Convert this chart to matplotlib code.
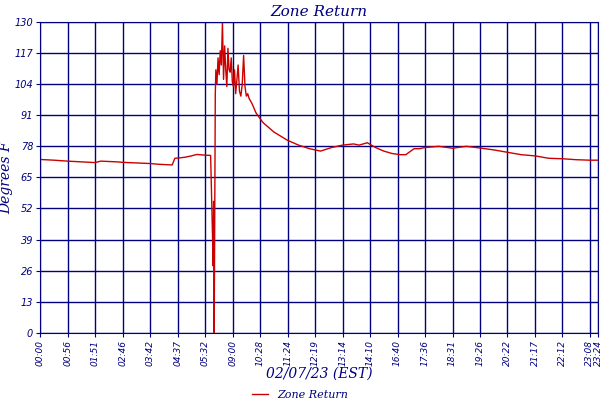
import matplotlib
matplotlib.use('Agg')
import matplotlib.pyplot as plt

NAVY = '#000080'
RED = '#cc0000'

tick_labels = ['00:00', '00:56', '01:51', '02:46', '03:42', '04:37', '05:32', '09:00',
               '10:28', '11:24', '12:19', '13:14', '14:10', '16:40', '17:36', '18:31',
               '19:26', '20:22', '21:17', '22:12', '23:08', '23:24']
tick_pos = list(range(21)) + [20.3]
y_ticks = [0, 13, 26, 39, 52, 65, 78, 91, 104, 117, 130]

# x in tick-slot units, values in degrees F
x = [0, 0.5, 1.0, 1.5, 2.0, 2.2, 2.8, 3.0, 3.6, 4.0, 4.3, 4.8, 4.9, 5.1, 5.3, 5.5, 5.7,
     5.9, 6.0, 6.2, 6.27, 6.29, 6.31, 6.33, 6.35, 6.37, 6.39, 6.43, 6.47, 6.51, 6.55,
     6.59, 6.63, 6.67, 6.71, 6.75, 6.79, 6.83, 6.87, 6.91, 6.95, 6.99, 7.03, 7.07,
     7.11, 7.15, 7.20, 7.25, 7.30, 7.35, 7.40, 7.45, 7.50, 7.55, 7.60, 7.7, 7.85,
     8.1, 8.5, 9.0, 9.4, 9.8, 10.2, 10.6, 11.0, 11.4, 11.6, 11.9, 12.2, 12.5,
     12.8, 13.1, 13.3, 13.6, 13.8, 14.0, 14.5, 15.0, 15.5, 16.0, 16.5, 17.0,
     17.5, 18.0, 18.5, 19.0, 19.5, 20.0, 20.3]
y = [72.5, 72.2, 71.8, 71.5, 71.2, 71.8, 71.5, 71.3, 71.0, 70.8, 70.5, 70.2, 73.0,
     73.2, 73.5, 74.0, 74.6, 74.4, 74.3, 74.2, 40, 28, 55, 0, 50, 100, 110, 104,
     115, 108, 118, 112, 130, 106, 120, 110, 103, 119, 110, 109, 115, 105, 103,
     110, 100, 105, 112, 101, 99, 104, 116, 103, 99, 100, 98, 96, 92, 88, 84,
     80.5, 78.5, 77, 76, 77.5, 78.5, 79, 78.5, 79.5, 77.5, 76, 75, 74.5, 74.5,
     77, 77, 77.5, 78, 77.2, 78, 77.3, 76.5, 75.5, 74.5, 74, 73, 72.8, 72.4,
     72.2, 72.2]

fig, ax = plt.subplots(figsize=(6, 4), dpi=100)
fig.subplots_adjust(left=0.067, right=0.997, top=0.945, bottom=0.168)
ax.plot(x, y, color=RED, lw=1, label='Zone Return')
ax.set_xlim(0, 20.3)
ax.set_ylim(0, 130)
ax.set_xticks(tick_pos)
ax.set_xticklabels(tick_labels, rotation=90, fontsize=6.5, color=NAVY, style='italic')
ax.set_yticks(y_ticks)
ax.set_yticklabels([str(v) for v in y_ticks], fontsize=7, color=NAVY, style='italic')
ax.grid(True, color=NAVY, lw=1)
for s in ax.spines.values():
    s.set_color(NAVY)
ax.tick_params(colors=NAVY, length=3, pad=2)
ax.set_title('Zone Return', color=NAVY, style='italic', fontsize=11, fontfamily='DejaVu Serif', pad=4)
ax.set_xlabel('02/07/23 (EST)', color=NAVY, style='italic', fontsize=10, fontfamily='DejaVu Serif', labelpad=1)
ax.set_ylabel('Degrees F', color=NAVY, style='italic', fontsize=10, fontfamily='DejaVu Serif', labelpad=1)
leg = fig.legend(loc='lower center', bbox_to_anchor=(0.5, -0.025), frameon=False,
                 handlelength=1.5, prop={'style': 'italic', 'family': 'DejaVu Serif', 'size': 8})
for t in leg.get_texts():
    t.set_color(NAVY)
fig.savefig('out.png')
